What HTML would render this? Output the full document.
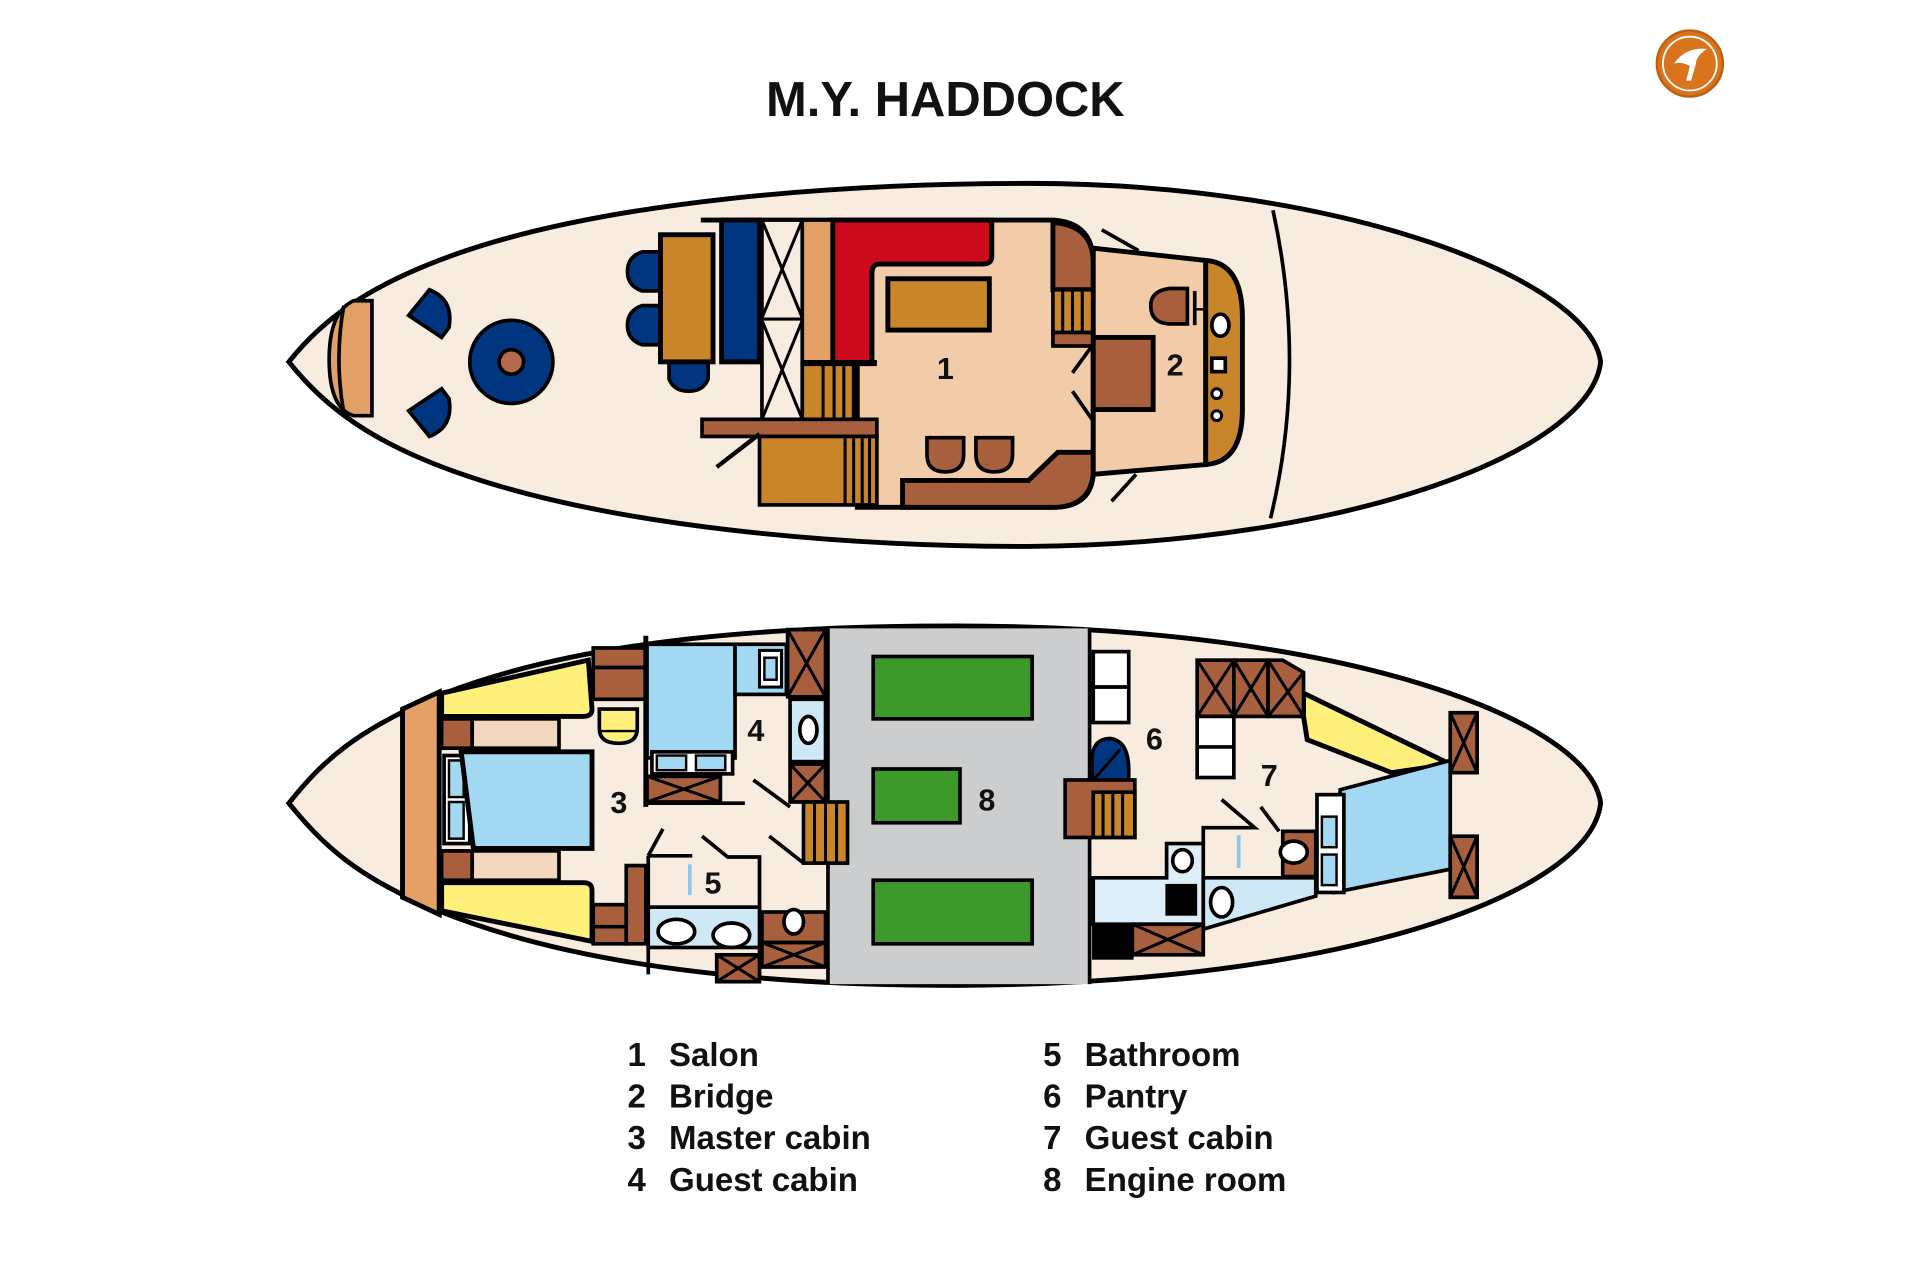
<!DOCTYPE html>
<html><head><meta charset="utf-8"><style>
html,body{margin:0;padding:0;background:#fff;}
svg{display:block}
</style></head><body>
<svg width="1920" height="1280" viewBox="0 0 1568 1047" xmlns="http://www.w3.org/2000/svg" font-family="Liberation Sans, Arial, sans-serif">
<rect width="1568" height="1047" fill="#fff"/>

<!-- Title -->
<text x="772" y="95" text-anchor="middle" font-size="40" font-weight="bold" fill="#111">M.Y. HADDOCK</text>

<!-- Logo -->
<circle cx="1381" cy="52" r="27" fill="#d9741c" stroke="#c05f10" stroke-width="2"/>
<circle cx="1381" cy="52" r="22" fill="none" stroke="#fff" stroke-width="1.5"/>
<path d="M1368,52 Q1378,38 1395,40 Q1386,46 1386,52 L1382,66 L1378,66 L1381,54 Q1374,50 1368,52Z" fill="#fff"/>

<g stroke="#000" stroke-width="4" stroke-linejoin="miter">
<!-- ========== UPPER DECK ========== -->
<path d="M235,296 C262,262 300,232 380,205 C500,165 680,150 840,150 C1100,150 1300,230 1308,296 C1300,370 1100,445 840,447 C680,447 500,430 380,389 C300,362 262,330 235,296 Z" fill="#f8ebdf"/>
<path d="M1040,172 Q1068,300 1038,424" fill="none" stroke-width="3"/>

<!-- bow seat -->
<path d="M303,246 L288,246 Q268,255 268,294 Q268,334 288,340 L303,340 Z" fill="#e3a066" stroke-width="3"/>
<path d="M280,250 Q272,294 280,338" fill="none" stroke-width="3"/>
<!-- quarter chairs -->
<path d="M333,258 L350,237 Q370,245 366,268 L360,276 Z" fill="#003580" stroke-width="3"/>
<path d="M333,336 L350,357 Q370,349 366,326 L360,318 Z" fill="#003580" stroke-width="3"/>
<!-- round table -->
<circle cx="417" cy="296" r="34" fill="#003580" stroke-width="3"/>
<circle cx="417" cy="296" r="10" fill="#b4694a" stroke-width="3"/>

<!-- dining chairs -->
<path d="M540,206 L524,206 Q512,210 512,222 Q512,234 524,238 L540,238 Z" fill="#003580" stroke-width="3"/>
<path d="M540,250 L524,250 Q512,254 512,266 Q512,278 524,282 L540,282 Z" fill="#003580" stroke-width="3"/>
<path d="M546,296 L546,310 Q550,320 562,320 Q574,320 578,310 L578,296 Z" fill="#003580" stroke-width="3"/>
<rect x="539" y="192" width="43" height="104" fill="#c9852a"/>
<rect x="589" y="180" width="31" height="116" fill="#003580"/>
<line x1="572" y1="180" x2="680" y2="180"/>
<!-- X frame -->
<rect x="622" y="180" width="33" height="163" fill="#f8ebdf" stroke-width="3"/>
<path d="M622,180 L655,260 M655,180 L622,260 M622,262 L655,343 M655,262 L622,343 M622,261 L655,261" stroke-width="2.5" fill="none"/>
<rect x="655" y="180" width="25" height="117" fill="#e3a066" stroke-width="3"/>

<!-- salon floor -->
<path d="M680,180 L860,180 Q893,182 893,215 L893,385 Q893,415 860,415 L700,415 L700,297 L680,297 Z" fill="#f2cba8"/>
<!-- red L sofa -->
<path d="M680,180 L810,180 L810,210 Q810,216 802,216 L718,216 Q712,216 712,224 L712,297 L680,297 Z" fill="#cc0a1e"/>
<rect x="725" y="228" width="83" height="42" fill="#c9852a"/>
<!-- stairs -->
<rect x="655" y="297" width="42" height="46" fill="#c9852a" stroke-width="3"/>
<path d="M672,297 V343 M681,297 V343 M689,297 V343" stroke-width="2.5"/>
<line x1="655" y1="297" x2="716" y2="297" stroke-width="5"/>
<rect x="573" y="343" width="143" height="14" fill="#a85f3e" stroke-width="3"/>
<rect x="620" y="357" width="96" height="56" fill="#c9852a" stroke-width="3"/>
<path d="M690,357 V413 M697,357 V413 M704,357 V413 M710,357 V413" stroke-width="2.5"/>
<line x1="585" y1="382" x2="620" y2="355" stroke-width="3.5"/>
<!-- bottom sofa -->
<path d="M737,415 L737,393 L840,393 L864,370 L893,370 L893,388 Q890,415 860,415 Z" fill="#a85f3e"/>
<path d="M757,358 L787,358 L787,372 Q787,386 772,386 Q757,386 757,372 Z" fill="#a85f3e" stroke-width="3"/>
<path d="M797,358 L827,358 L827,372 Q827,386 812,386 Q797,386 797,372 Z" fill="#a85f3e" stroke-width="3"/>
<!-- right brown cabinet + stair -->
<path d="M860,182 Q893,184 893,215 L893,237 L860,237 Z" fill="#a85f3e"/>
<rect x="860" y="237" width="33" height="35" fill="#c9852a" stroke-width="3"/>
<path d="M868,237 V272 M876,237 V272 M884,237 V272" stroke-width="2.5"/>
<rect x="860" y="272" width="33" height="11" fill="#a85f3e" stroke-width="3"/>
<line x1="876" y1="305" x2="892" y2="283" stroke-width="3"/>
<line x1="876" y1="320" x2="892" y2="343" stroke-width="3"/>
<!-- bridge -->
<path d="M893,203 L985,213 L985,380 L893,388 Z" fill="#f2cba8"/>
<path d="M985,213 Q1015,215 1015,260 L1015,335 Q1015,378 985,380 Z" fill="#c9852a"/>
<rect x="893" y="276" width="49" height="59" fill="#a85f3e"/>
<path d="M970,236 L955,236 Q940,238 940,250 Q940,264 955,265 L970,265 Z" fill="#a85f3e" stroke-width="3"/>
<line x1="976" y1="238" x2="976" y2="266" stroke-width="3"/>
<line x1="976" y1="253" x2="985" y2="253" stroke-width="2"/>
<ellipse cx="997" cy="266" rx="7" ry="9" fill="#fff" stroke-width="3"/>
<rect x="990" y="293" width="11" height="11" fill="#fff" stroke-width="3"/>
<circle cx="994" cy="322" r="4" fill="#fff" stroke-width="2.5"/>
<circle cx="994" cy="340" r="4" fill="#fff" stroke-width="2.5"/>
<line x1="900" y1="188" x2="930" y2="205" stroke-width="3"/>
<line x1="908" y1="410" x2="928" y2="388" stroke-width="3"/>
<text x="772" y="310" font-size="25" font-weight="bold" text-anchor="middle" stroke="none" fill="#111">1</text>
<text x="960" y="307" font-size="25" font-weight="bold" text-anchor="middle" stroke="none" fill="#111">2</text>

<!-- ========== LOWER DECK ========== -->
<path d="M235,657 C262,623 290,597 360,568 C470,525 620,512 780,512 C1100,512 1300,590 1308,657 C1300,730 1100,805 780,806 C620,806 470,790 360,746 C290,718 262,690 235,657 Z" fill="#f8ebdf"/>
<!-- engine room -->
<rect x="676" y="514" width="214" height="291" fill="#cccdcf" stroke="none"/>
<line x1="676" y1="514" x2="676" y2="805" stroke-width="3"/>
<line x1="890" y1="514" x2="890" y2="805" stroke-width="3"/>
<rect x="713" y="537" width="130" height="51" fill="#3d9a2a" stroke-width="3"/>
<rect x="713" y="629" width="71" height="44" fill="#3d9a2a" stroke-width="3"/>
<rect x="713" y="720" width="130" height="52" fill="#3d9a2a" stroke-width="3"/>
<text x="806" y="663" font-size="25" font-weight="bold" text-anchor="middle" stroke="none" fill="#111">8</text>

<!-- master cabin -->
<path d="M328,580 L358,566 L358,748 L328,734 Z" fill="#e3a066"/>
<path d="M360,567 L480,540 L483,580 Q483,586 476,586 L360,586 Z" fill="#fff07c"/>
<path d="M360,722 L476,722 Q483,722 483,728 L483,770 L360,745 Z" fill="#fff07c"/>
<rect x="360" y="588" width="25" height="24" fill="#a85f3e" stroke-width="3"/>
<rect x="385" y="588" width="71" height="24" fill="#f2d6be" stroke-width="3"/>
<rect x="360" y="696" width="25" height="24" fill="#a85f3e" stroke-width="3"/>
<rect x="385" y="696" width="71" height="24" fill="#f2d6be" stroke-width="3"/>
<rect x="362" y="618" width="21" height="72" fill="#fff" stroke-width="3"/>
<rect x="366" y="622" width="12" height="30" fill="#a2d8f2" stroke-width="2"/>
<rect x="366" y="656" width="12" height="30" fill="#a2d8f2" stroke-width="2"/>
<path d="M376,615 L483,615 L483,694 L386,694 Z" fill="#a2d8f2"/>
<rect x="484" y="530" width="43" height="42" fill="#a85f3e" stroke-width="3"/>
<line x1="484" y1="546" x2="527" y2="546" stroke-width="3"/>
<path d="M489,580 L520,580 L520,596 Q520,608 505,608 Q489,608 489,596 Z" fill="#fff07c" stroke-width="3"/>
<line x1="489" y1="598" x2="520" y2="598" stroke-width="2"/>
<rect x="484" y="740" width="27" height="32" fill="#a85f3e" stroke-width="3"/>
<line x1="484" y1="758" x2="511" y2="758" stroke-width="3"/>
<rect x="511" y="708" width="16" height="64" fill="#a85f3e" stroke-width="3"/>
<text x="505" y="665" font-size="25" font-weight="bold" text-anchor="middle" stroke="none" fill="#111">3</text>

<!-- guest cabin 4 -->
<line x1="527" y1="520" x2="527" y2="660" stroke-width="4"/>
<rect x="528" y="527" width="72" height="93" fill="#a2d8f2" stroke-width="3"/>
<rect x="532" y="615" width="66" height="18" fill="#fff" stroke-width="3"/>
<rect x="536" y="618" width="24" height="12" fill="#a2d8f2" stroke-width="2"/>
<rect x="568" y="618" width="24" height="12" fill="#a2d8f2" stroke-width="2"/>
<rect x="528" y="635" width="60" height="21" fill="#a85f3e" stroke-width="3"/>
<path d="M528,635 L588,656 M588,635 L528,656" stroke-width="2.5"/>
<line x1="527" y1="657" x2="608" y2="657" stroke-width="3"/>
<rect x="600" y="527" width="42" height="41" fill="#a2d8f2" stroke-width="3"/>
<rect x="620" y="532" width="18" height="30" fill="#fff" stroke-width="2.5"/>
<rect x="624" y="538" width="10" height="18" fill="#a2d8f2" stroke-width="2"/>
<rect x="643" y="515" width="31" height="55" fill="#a85f3e" stroke-width="3"/>
<path d="M643,515 L674,570 M674,515 L643,570" stroke-width="2.5"/>
<rect x="645" y="572" width="29" height="51" fill="#cfe8f5" stroke-width="3"/>
<ellipse cx="660" cy="597" rx="7" ry="11" fill="#fff" stroke-width="3"/>
<rect x="645" y="625" width="29" height="31" fill="#a85f3e" stroke-width="3"/>
<path d="M645,625 L674,656 M674,625 L645,656" stroke-width="2.5"/>
<rect x="656" y="656" width="36" height="50" fill="#c9852a" stroke-width="3"/>
<path d="M665,656 V706 M674,656 V706 M683,656 V706" stroke-width="2.5"/>
<path d="M615,638 L645,660" stroke-width="3" fill="none"/>
<path d="M628,684 L656,706" stroke-width="3" fill="none"/>
<text x="617" y="606" font-size="25" font-weight="bold" text-anchor="middle" stroke="none" fill="#111">4</text>

<!-- bathroom 5 -->
<path d="M529,700 L541,678" stroke-width="3" fill="none"/>
<path d="M529,700 L565,700" stroke-width="3" fill="none"/>
<path d="M573,684 L594,701 L620,701 L620,797" stroke-width="3" fill="none"/>
<line x1="529" y1="700" x2="529" y2="797" stroke-width="3"/>
<line x1="563" y1="707" x2="563" y2="732" stroke="#8cc8ea" stroke-width="3"/>
<rect x="529" y="742" width="91" height="33" fill="#cfe8f5" stroke-width="3"/>
<ellipse cx="552" cy="762" rx="15" ry="10" fill="#fff" stroke-width="3"/>
<ellipse cx="597" cy="765" rx="15" ry="10" fill="#fff" stroke-width="3"/>
<rect x="585" y="781" width="35" height="22" fill="#a85f3e" stroke-width="3"/>
<path d="M585,781 L620,803 M620,781 L585,803" stroke-width="2.5"/>
<rect x="622" y="746" width="52" height="25" fill="#a85f3e" stroke-width="3"/>
<ellipse cx="648" cy="754" rx="8" ry="10" fill="#fff" stroke-width="3"/>
<rect x="622" y="771" width="52" height="20" fill="#a85f3e" stroke-width="3"/>
<path d="M622,771 L674,791 M674,771 L622,791" stroke-width="2.5"/>
<text x="582" y="731" font-size="25" font-weight="bold" text-anchor="middle" stroke="none" fill="#111">5</text>

<!-- pantry 6 -->
<rect x="893" y="533" width="29" height="29" fill="#fff" stroke-width="3"/>
<rect x="893" y="562" width="29" height="29" fill="#fff" stroke-width="3"/>
<path d="M892,638 L892,620 Q893,604 907,604 Q922,606 922,630 L922,638 Z" fill="#003580" stroke-width="3"/>
<line x1="894" y1="637" x2="915" y2="613" stroke-width="2.5"/>
<rect x="870" y="638" width="57" height="47" fill="#a85f3e" stroke-width="3"/>
<rect x="893" y="648" width="34" height="37" fill="#c9852a" stroke-width="3"/>
<path d="M901,648 V685 M909,648 V685 M917,648 V685" stroke-width="2.5"/>
<text x="943" y="613" font-size="25" font-weight="bold" text-anchor="middle" stroke="none" fill="#111">6</text>

<!-- guest cabin 7 -->
<path d="M1065,567 L1185,625 L1137,632 L1068,605 L1065,586 Z" fill="#fff07c"/>
<rect x="978" y="540" width="30" height="46" fill="#a85f3e" stroke-width="3"/>
<rect x="1008" y="540" width="28" height="46" fill="#a85f3e" stroke-width="3"/>
<path d="M1036,540 L1048,540 L1065,550 L1065,586 L1036,586 Z" fill="#a85f3e" stroke-width="3"/>
<path d="M978,540 L1008,586 M1008,540 L978,586 M1008,540 L1036,586 M1036,540 L1008,586 M1036,540 L1065,586 M1065,550 L1036,586" stroke-width="2.5"/>
<rect x="978" y="586" width="30" height="50" fill="#fff" stroke-width="3"/>
<line x1="978" y1="611" x2="1008" y2="611" stroke-width="3"/>
<path d="M1095,646 L1185,622 L1185,711 L1090,730 Z" fill="#a2d8f2" stroke-width="3"/>
<rect x="1076" y="650" width="22" height="80" fill="#fff" stroke-width="3"/>
<rect x="1080" y="668" width="12" height="25" fill="#a2d8f2" stroke-width="2"/>
<rect x="1080" y="699" width="12" height="25" fill="#a2d8f2" stroke-width="2"/>
<rect x="1185" y="583" width="22" height="49" fill="#a85f3e" stroke-width="3"/>
<path d="M1185,583 L1207,632 M1207,583 L1185,632" stroke-width="2.5"/>
<rect x="1185" y="684" width="22" height="50" fill="#a85f3e" stroke-width="3"/>
<path d="M1185,684 L1207,734 M1207,684 L1185,734" stroke-width="2.5"/>
<text x="1037" y="643" font-size="25" font-weight="bold" text-anchor="middle" stroke="none" fill="#111">7</text>
<!-- bathroom 7 -->
<path d="M893,718 L953,718 L953,690 L983,690 L983,756 L893,756 Z" fill="#ddeef8" stroke-width="3"/>
<path d="M983,718 L1075,718 L1075,733 L983,760 Z" fill="#cfe8f5" stroke-width="3"/>
<path d="M983,690 L983,677 L1025,677 L998,654" fill="none" stroke-width="3"/>
<line x1="1012" y1="683" x2="1012" y2="710" stroke="#8cc8ea" stroke-width="3"/>
<path d="M1030,660 L1045,680" stroke-width="3" fill="none"/>
<rect x="1048" y="680" width="27" height="37" fill="#a85f3e" stroke-width="3"/>
<ellipse cx="1057" cy="697" rx="11" ry="9" fill="#fff" stroke-width="3"/>
<ellipse cx="966" cy="704" rx="8" ry="9" fill="#fff" stroke-width="3"/>
<rect x="953" y="724" width="24" height="24" fill="#000" stroke-width="2"/>
<ellipse cx="998" cy="738" rx="9" ry="12" fill="#fff" stroke-width="3"/>
<rect x="893" y="756" width="32" height="28" fill="#000" stroke-width="2"/>
<rect x="925" y="756" width="58" height="25" fill="#a85f3e" stroke-width="3"/>
<path d="M925,756 L983,781 M983,756 L925,781" stroke-width="2.5"/>
</g>

<!-- Legend -->
<g font-size="27" font-weight="bold" fill="#111">
<text x="512" y="872">1</text><text x="546" y="872">Salon</text>
<text x="512" y="906">2</text><text x="546" y="906">Bridge</text>
<text x="512" y="940">3</text><text x="546" y="940">Master cabin</text>
<text x="512" y="974">4</text><text x="546" y="974">Guest cabin</text>
<text x="852" y="872">5</text><text x="886" y="872">Bathroom</text>
<text x="852" y="906">6</text><text x="886" y="906">Pantry</text>
<text x="852" y="940">7</text><text x="886" y="940">Guest cabin</text>
<text x="852" y="974">8</text><text x="886" y="974">Engine room</text>
</g>
</svg>
</body></html>
